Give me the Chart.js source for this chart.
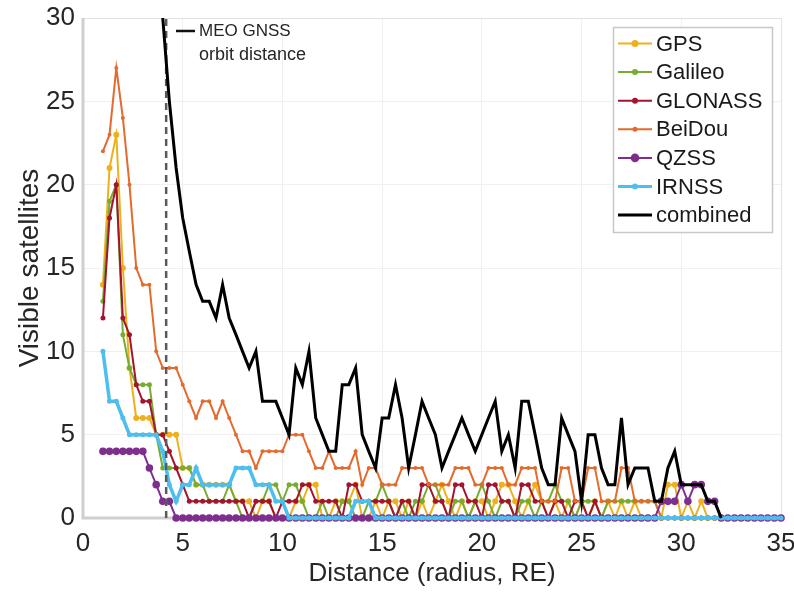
<!DOCTYPE html>
<html><head><meta charset="utf-8">
<script src="https://cdn.jsdelivr.net/npm/chart.js@4.4.1/dist/chart.umd.min.js"></script>
<style>html,body{margin:0;padding:0;background:#fff;}</style>
</head><body>
<canvas id="c" width="794" height="592" style="width:794px;height:592px;display:block"></canvas>
<script>
// Distance from Earth centre (Earth radii)
const distance = [
 1.00,1.33,1.67, 2.00,2.33,2.67, 3.00,3.33,3.67, 4.00,4.33,4.67, 5.00,5.33,5.67,
 6.00,6.33,6.67, 7.00,7.33,7.67, 8.00,8.33,8.67, 9.00,9.33,9.67, 10.00,10.33,10.67,
 11.00,11.33,11.67, 12.00,12.33,12.67, 13.00,13.33,13.67, 14.00,14.33,14.67, 15.00,15.33,15.67,
 16.00,16.33,16.67, 17.00,17.33,17.67, 18.00,18.33,18.67, 19.00,19.33,19.67, 20.00,20.33,20.67,
 21.00,21.33,21.67, 22.00,22.33,22.67, 23.00,23.33,23.67, 24.00,24.33,24.67, 25.00,25.33,25.67,
 26.00,26.33,26.67, 27.00,27.33,27.67, 28.00,28.33,28.67, 29.00,29.33,29.67, 30.00,30.33,30.67,
 31.00,31.33,31.67, 32.00,32.33,32.67, 33.00,33.33,33.67, 34.00,34.33,34.67, 35.00
];
const gps = [14,21,23,15,9,6,6,6,5,5,5,5,3,3,2,2,2,2,2,2,1,1,1,0,1,1,0,0,0,1,1,2,2,0,0,1,1,1,2,0,0,1,0,1,1,0,1,0,1,0,1,2,1,0,1,0,1,1,0,1,2,2,1,0,1,2,1,0,1,0,1,0,1,0,1,0,1,0,1,0,1,0,0,0,0,2,2,0,1,0,1,0,0,0,0,0,0,0,0,0,0,0,0];
const galileo = [13,19,20,11,9,8,8,8,5,3,3,3,3,3,2,2,1,1,1,2,1,0,0,1,1,2,2,1,2,2,1,0,0,1,0,0,1,1,0,0,1,1,2,1,0,1,0,1,1,2,2,1,0,1,1,0,1,2,1,0,1,1,0,1,1,0,1,1,2,1,1,0,1,1,1,0,1,1,1,1,1,1,1,1,0,0,0,0,0,0,0,0,0,0,0,0,0,0,0,0,0,0,0];
const glonass = [12,18,20,12,11,8,7,7,5,5,4,3,2,1,1,1,1,1,1,1,1,1,0,1,1,1,0,1,1,1,2,2,1,1,1,1,0,2,2,1,1,1,1,1,0,1,1,0,2,2,1,1,0,2,2,1,1,0,2,2,1,1,0,2,2,1,1,0,1,1,0,1,1,0,1,0,0,0,0,0,0,0,0,0,0,0,0,0,0,0,0,0,0,0,0,0,0,0,0,0,0,0,0];
const beidou = [22,23,27,24,20,15,14,14,10,9,9,9,8,7,6,7,7,6,7,6,5,4,4,3,4,4,4,4,5,5,5,4,3,3,4,3,3,3,4,2,3,3,2,2,2,3,3,3,3,2,2,2,2,3,3,3,2,2,3,3,3,2,2,3,3,3,1,1,1,3,3,1,1,3,3,1,1,1,3,3,1,1,1,1,0,0,0,0,0,0,0,0,0,0,0,0,0,0,0,0,0,0,0];
const qzss = [4,4,4,4,4,4,4,3,2,1,1,0,0,0,0,0,0,0,0,0,0,0,0,0,0,0,0,0,0,0,0,0,0,0,0,0,0,0,0,0,0,0,0,0,0,0,0,0,0,0,0,0,0,0,0,0,0,0,0,0,0,0,0,0,0,0,0,0,0,0,0,0,0,0,0,0,0,0,0,0,0,0,0,0,1,1,1,2,1,2,2,1,1,0,0,0,0,0,0,0,0,0,0];
const irnss = [10,7,7,6,5,5,5,5,5,4,2,1,2,2,3,2,2,2,2,2,3,3,3,2,2,2,1,1,0,0,0,0,0,0,0,0,0,0,1,1,1,0,0,0,0,0,0,0,0,0,0,0,0,0,0,0,0,0,0,0,0,0,0,0,0,0,0,0,0,0,0,0,0,0,0,0,0,0,0,0,0,0,0,0,0,0,0,0,0,0,0,0,0,0,0,0,0,0,0,0,0,0,0];
// combined: beyond ~31.5 RE the line lies at 0 underneath the other series (not plotted on top)
const combined = [75,92,100,80,60,50,45,40,35,30,25,21,18,16,14,13,13,12,14,12,11,10,9,10,7,7,7,6,5,9,8,10,6,5,4,4,8,8,9,5,4,3,6,6,8,6,3,5,7,6,5,3,4,5,6,5,4,5,6,7,4,5,3,7,7,5,3,2,2,6,5,4,1,5,5,3,2,2,6,2,3,3,3,1,1,3,4,2,2,2,2,1,1,0,null,null,null,null,null,null,null,null,null];
const meoDistance = [4.17, 4.17];
const meoSpan = [0, 30];
const xTicks = [0,5,10,15,20,25,30,35];
const yTicks = [0,5,10,15,20,25,30];
const seriesNames = ['GPS','Galileo','GLONASS','BeiDou','QZSS','IRNSS','combined'];

const pts = arr => arr.map((v,i)=>({x:distance[i], y:v}));
const FONT = '"Liberation Sans", Arial, Helvetica, sans-serif';
const CLIP = {top: 6, left: 6, right: 6, bottom: 8};

function ds(label, data, color, radius, order, extra) {
  return Object.assign({
    label, data: pts(data), borderColor: color, backgroundColor: color,
    pointBackgroundColor: color, pointBorderColor: color,
    borderWidth: 2, pointRadius: radius, pointBorderWidth: 0, pointStyle: 'circle',
    tension: 0, order, spanGaps: false, clip: CLIP
  }, extra || {});
}

const datasets = [
  ds(seriesNames[0], gps, '#EDB120', 3, 6),
  ds(seriesNames[1], galileo, '#77AC30', 2.5, 5),
  ds(seriesNames[2], glonass, '#A2142F', 2.5, 4),
  ds(seriesNames[3], beidou, '#E46A2E', 2, 3),
  ds(seriesNames[4], qzss, '#7E2F8E', 3.8, 2),
  ds(seriesNames[5], irnss, '#4DBEEE', 2.5, 1, {borderWidth: 3.5}),
  ds(seriesNames[6], combined, '#000000', 0, 0, {borderWidth: 3, clip: {top: 0, left: 5, right: 5, bottom: 5}}),
  {label: 'meo', data: meoDistance.map((x,i)=>({x, y: meoSpan[i]})), borderColor: '#5a5a5a',
   borderWidth: 2.5, borderDash: [7,5], pointRadius: 0, order: 0.5}
];

const decor = {
  id: 'decor',
  beforeDatasetsDraw(chart) {
    const {ctx, chartArea: a} = chart;
    ctx.save();
    ctx.strokeStyle = '#e2e2e2'; ctx.lineWidth = 1;
    ctx.beginPath();
    ctx.moveTo(a.left, a.top + 0.5); ctx.lineTo(a.right + 0.5, a.top + 0.5);
    ctx.lineTo(a.right + 0.5, a.bottom);
    ctx.stroke();
    ctx.strokeStyle = '#cfcfcf'; ctx.lineWidth = 3;
    ctx.beginPath();
    ctx.moveTo(a.left, a.top); ctx.lineTo(a.left, a.bottom); ctx.lineTo(a.right, a.bottom);
    ctx.stroke();
    ctx.restore();
  },
  afterDraw(chart) {
    const {ctx} = chart;
    ctx.save();
    // annotation
    ctx.strokeStyle = '#111'; ctx.lineWidth = 2.5;
    ctx.beginPath(); ctx.moveTo(176, 31); ctx.lineTo(195, 31); ctx.stroke();
    ctx.fillStyle = '#262626';
    ctx.textBaseline = 'middle'; ctx.textAlign = 'left';
    ctx.font = '17px ' + FONT;
    ctx.fillText('MEO GNSS', 199, 31);
    ctx.font = '18px ' + FONT;
    ctx.fillText('orbit distance', 199, 55);
    // legend
    const bx = 613, by = 27, bw = 159, bh = 205;
    ctx.fillStyle = '#fff'; ctx.fillRect(bx, by, bw, bh);
    ctx.strokeStyle = '#c8c8c8'; ctx.lineWidth = 1.5;
    ctx.strokeRect(bx + 0.5, by + 0.5, bw, bh);
    ctx.font = '22px ' + FONT;
    for (let i = 0; i < 7; i++) {
      const d = chart.data.datasets[i];
      const y = 43.5 + i * 28.6;
      ctx.strokeStyle = d.borderColor; ctx.lineWidth = Math.min(d.borderWidth, 3);
      ctx.setLineDash([]);
      ctx.beginPath(); ctx.moveTo(618, y); ctx.lineTo(652, y); ctx.stroke();
      if (d.pointRadius > 0) {
        ctx.fillStyle = d.borderColor;
        ctx.beginPath(); ctx.arc(635, y, d.pointRadius + 0.5, 0, Math.PI * 2); ctx.fill();
      }
      ctx.fillStyle = '#1a1a1a';
      ctx.fillText(d.label, 656, y + 1);
    }
    ctx.restore();
  }
};

new Chart(document.getElementById('c'), {
  type: 'line',
  data: {datasets},
  options: {
    responsive: false, animation: false, devicePixelRatio: 1,
    layout: {padding: {top: 18, right: 13, left: 0, bottom: 0}},
    plugins: {legend: {display: false}, tooltip: {enabled: false}},
    scales: {
      x: {
        type: 'linear', min: 0, max: 35,
        afterBuildTicks: s => { s.ticks = xTicks.map(v => ({value: v})); },
        afterFit: s => { s.height = 74; s.paddingRight = 0; s.paddingLeft = 0; },
        grid: {color: '#f0f0f0', drawTicks: false, lineWidth: 1},
        border: {display: false},
        ticks: {font: {size: 26, family: FONT}, color: '#262626', padding: 10, maxRotation: 0},
        title: {display: true, text: 'Distance (radius, RE)', font: {size: 26, family: FONT}, color: '#262626', padding: {top: 0, bottom: 3}}
      },
      y: {
        type: 'linear', min: 0, max: 30,
        afterBuildTicks: s => { s.ticks = yTicks.map(v => ({value: v})); },
        afterFit: s => { s.width = 83; s.paddingTop = 0; s.paddingBottom = 0; },
        grid: {color: '#f0f0f0', drawTicks: false, lineWidth: 1},
        border: {display: false},
        ticks: {font: {size: 26, family: FONT}, color: '#262626', padding: 8},
        title: {display: true, text: 'Visible satellites', font: {size: 28, family: FONT}, color: '#262626', padding: {top: 13, bottom: 0}}
      }
    }
  },
  plugins: [decor]
});
</script>
</body></html>
